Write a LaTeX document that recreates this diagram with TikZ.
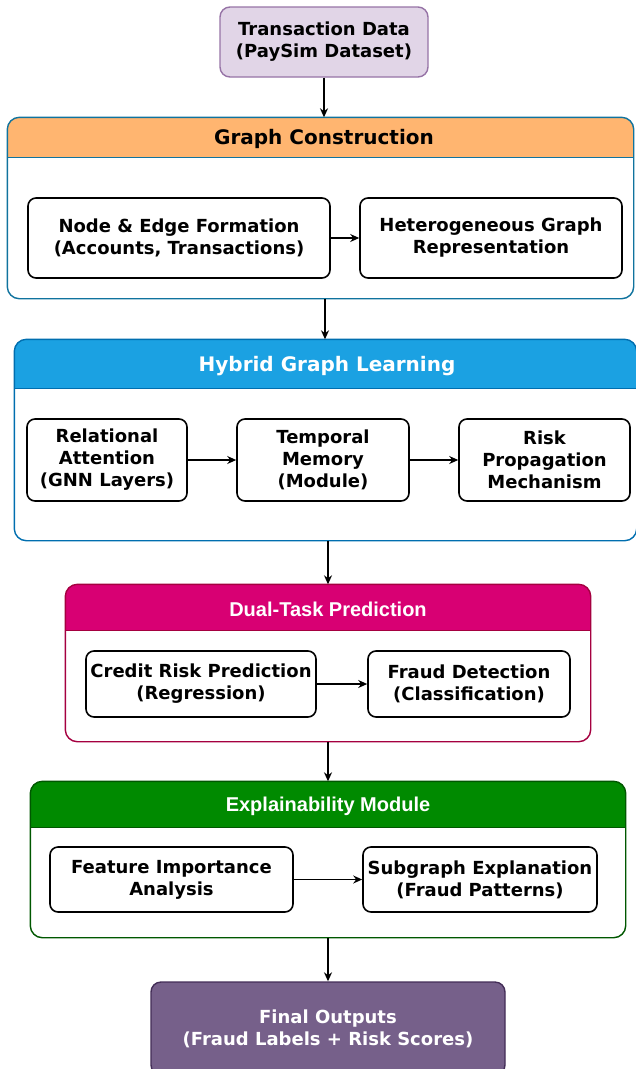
\documentclass[tikz,border=0pt]{standalone}
\usepackage{fontspec}
\setmainfont{DejaVu Sans}
\newfontfamily\arialfont{Liberation Sans}
\usetikzlibrary{arrows.meta,calc}
\definecolor{topfill}{HTML}{E1D5E7}
\definecolor{topdraw}{HTML}{9673A6}
\definecolor{gchead}{HTML}{FFB570}
\definecolor{gcdraw}{HTML}{10739E}
\definecolor{hglhead}{HTML}{1BA1E2}
\definecolor{hgldraw}{HTML}{006EAF}
\definecolor{dtphead}{HTML}{D80073}
\definecolor{dtpdraw}{HTML}{A50040}
\definecolor{exphead}{HTML}{008A00}
\definecolor{expdraw}{HTML}{005700}
\definecolor{finfill}{HTML}{76608A}
\definecolor{findraw}{HTML}{432D57}
\tikzset{
  txt/.style={align=center,font=\bfseries\fontsize{18}{22}\selectfont},
  innerbox/.style={txt,draw=black,line width=1.6pt,rounded corners=8pt,fill=white,inner sep=0pt},
  container/.style={rounded corners=12pt,line width=1.4pt,inner sep=0pt},
  headtxt/.style={font=\bfseries\fontsize{20}{22}\selectfont},
  arialtxt/.style={font=\arialfont\bfseries\fontsize{20}{22}\selectfont},
  arr/.style={draw=black,line width=1.4pt,-{Stealth[length=9pt,width=8pt]}},
}
\newcommand{\header}[4]{% container name, header height, fill colour, border colour
  \begin{scope}
    \clip[rounded corners=12pt] (#1.south west) rectangle (#1.north east);
    \fill[#3] (#1.north west) rectangle ($(#1.north east)+(0,#2)$);
    \draw[#4,line width=1.2pt] ($(#1.north west)+(0,#2)$) -- ($(#1.north east)+(0,#2)$);
  \end{scope}
  \draw[#4,rounded corners=12pt,line width=1.4pt] (#1.south west) rectangle (#1.north east);
}
\begin{document}
\begin{tikzpicture}[x=1pt,y=-1pt]
\useasboundingbox (0,0) rectangle (635,1069);

% top node
\node[txt,draw=topdraw,fill=topfill,line width=1.4pt,rounded corners=10pt,
  minimum width=208pt,minimum height=70pt,inner sep=0pt] (data) at (324,42)
  {Transaction Data\\(PaySim Dataset)};

% Graph construction
\node[container,minimum width=625pt,minimum height=180pt] (gc) at (320.5,208) {};
\header{gc}{40}{gchead}{gcdraw}
\node[headtxt] (gch) at (324,139) {Graph Construction};
\node[innerbox,minimum width=302pt,minimum height=80pt] (nef) at (179,238)
  {Node \& Edge Formation\\(Accounts, Transactions)};
\node[innerbox,minimum width=262pt,minimum height=80pt] (hgr) at (491,238)
  {Heterogeneous Graph\\Representation};

% Hybrid graph learning
\node[container,minimum width=621pt,minimum height=200pt] (hgl) at (325.5,440) {};
\header{hgl}{49}{hglhead}{hgldraw}
\node[headtxt,text=white] (hglh) at (327,366) {Hybrid Graph Learning};
\node[innerbox,minimum width=160pt,minimum height=82pt] (rel) at (107,460)
  {Relational\\Attention\\(GNN Layers)};
\node[innerbox,minimum width=172pt,minimum height=82pt] (tem) at (323,460)
  {Temporal\\Memory\\(Module)};
\node[innerbox,minimum width=171pt,minimum height=82pt] (risk) at (544.5,460)
  {Risk\\Propagation\\Mechanism};

% Dual-task prediction
\node[container,minimum width=524pt,minimum height=156pt] (dtp) at (328,663) {};
\header{dtp}{46}{dtphead}{dtpdraw}
\node[arialtxt,text=white] (dtph) at (328,609) {Dual-Task Prediction};
\node[innerbox,minimum width=230pt,minimum height=66pt] (crp) at (201,684)
  {Credit Risk Prediction\\(Regression)};
\node[innerbox,minimum width=202pt,minimum height=66pt] (frd) at (469,684)
  {Fraud Detection\\(Classification)};

% Explainability module
\node[container,minimum width=594pt,minimum height=155pt] (exm) at (328,859.5) {};
\header{exm}{46}{exphead}{expdraw}
\node[arialtxt,text=white] (exmh) at (328,806) {Explainability Module};
\node[innerbox,minimum width=243pt,minimum height=65pt] (fia) at (171.5,879.5)
  {Feature Importance\\Analysis};
\node[innerbox,minimum width=234pt,minimum height=65pt] (sge) at (480,879.5)
  {Subgraph Explanation\\(Fraud Patterns)};

% Final outputs
\node[txt,text=white,draw=findraw,fill=finfill,line width=1.4pt,rounded corners=10pt,
  minimum width=354pt,minimum height=93pt,inner sep=0pt] (fin) at (328,1028.5)
  {Final Outputs\\(Fraud Labels + Risk Scores)};

% arrows
\draw[arr] (data.south) -- (data.south |- gc.north);
\draw[arr] (nef.east) -- (hgr.west);
\draw[arr] ([xshift=4.5pt]gc.south) -- ([xshift=4.5pt]gc.south |- hgl.north);
\draw[arr] (rel.east) -- (tem.west);
\draw[arr] (tem.east) -- (risk.west);
\draw[arr] (hgl.south -| dtp.north) -- (dtp.north);
\draw[arr] (crp.east) -- (frd.west);
\draw[arr] (dtp.south) -- (exm.north);
\draw[arr] (fia.east) -- (sge.west);
\draw[arr] (exm.south) -- (fin.north);
\end{tikzpicture}
\end{document}
